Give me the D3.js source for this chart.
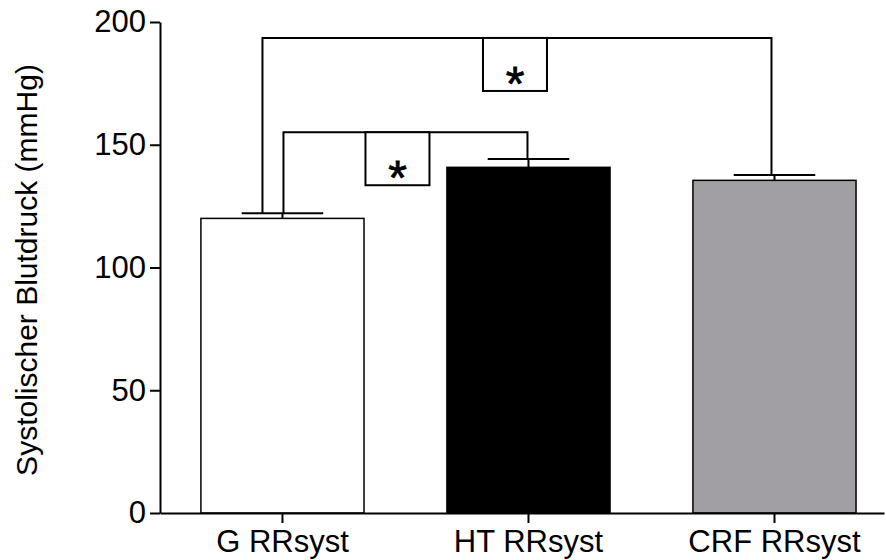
<!DOCTYPE html>
<html>
<head>
<meta charset="utf-8">
<script src="https://cdn.jsdelivr.net/npm/d3@7"></script>
<style>
  body { margin: 0; background: #fff; }
  text { font-family: "Liberation Sans", Arial, sans-serif; }
</style>
</head>
<body>
<div id="barchart"></div>
<script>
// data
const groups = ["G RRsyst", "HT RRsyst", "CRF RRsyst"]
const means = [120, 140.8, 135.5]
const sems = [2.1, 3.4, 2.2]
const yTicks = [0, 50, 100, 150, 200]

// significance brackets: from group, to group, height of the bar line
const bracketFrom = ["G RRsyst", "G RRsyst"]
const bracketTo = ["HT RRsyst", "CRF RRsyst"]
const bracketLevel = [155.1, 193.5]
const bracketLabel = ["*", "*"]

const width = 886
const height = 560
const margins = { top: 22, bottom: 47, left: 160, right: 2 }

const data = groups.map((g, i) => ({ group: g, mean: means[i], sem: sems[i] }))

const xScale = d3.scaleBand()
    .domain(groups)
    .range([margins.left, width - margins.right])
    .paddingInner(0.337)
    .paddingOuter(0.14)
    .align(0.594)

const yScale = d3.scaleLinear()
    .domain([0, 200])
    .range([height - margins.bottom, margins.top])

const fillColor = d3.scaleOrdinal()
    .domain(groups)
    .range(["#ffffff", "#000000", "#a19fa4"])

const svg = d3.select("#barchart")
    .append("svg")
    .attr("width", width)
    .attr("height", height)

// bars
svg.selectAll("rect.bar")
    .data(data)
    .join("rect")
    .attr("class", "bar")
    .attr("x", d => xScale(d.group))
    .attr("y", d => yScale(d.mean))
    .attr("width", xScale.bandwidth())
    .attr("height", d => yScale(0) - yScale(d.mean))
    .attr("fill", d => fillColor(d.group))
    .attr("stroke", "#000")
    .attr("stroke-width", 1.5)

// error bars (upper only)
const cx = g => xScale(g) + xScale.bandwidth() / 2
svg.selectAll("line.stem")
    .data(data)
    .join("line")
    .attr("class", "stem")
    .attr("x1", d => cx(d.group))
    .attr("x2", d => cx(d.group))
    .attr("y1", d => yScale(d.mean))
    .attr("y2", d => yScale(d.mean + d.sem))
    .attr("stroke", "#000")
    .attr("stroke-width", 2)

svg.selectAll("line.cap")
    .data(data)
    .join("line")
    .attr("class", "cap")
    .attr("x1", d => cx(d.group) - xScale.bandwidth() / 4)
    .attr("x2", d => cx(d.group) + xScale.bandwidth() / 4)
    .attr("y1", d => yScale(d.mean + d.sem))
    .attr("y2", d => yScale(d.mean + d.sem))
    .attr("stroke", "#000")
    .attr("stroke-width", 2)

// brackets
const capTop = g => { const d = data.find(e => e.group === g); return yScale(d.mean + d.sem) }
const brackets = bracketFrom.map((f, i) => ({ from: f, to: bracketTo[i], level: bracketLevel[i], label: bracketLabel[i] }))
// small horizontal shifts of the bracket legs, as drawn in the original
const legShift = [[1, -1], [-20, -3]]
const boxShift = [-8, -2]

brackets.forEach((b, i) => {
    const x1 = cx(b.from) + legShift[i][0]
    const x2 = cx(b.to) + legShift[i][1]
    const y = yScale(b.level)
    svg.append("path")
        .attr("d", `M${x1},${capTop(b.from)}V${y}H${x2}V${capTop(b.to)}`)
        .attr("fill", "none")
        .attr("stroke", "#000")
        .attr("stroke-width", 2)
    const bx = (x1 + x2) / 2 + boxShift[i]
    svg.append("rect")
        .attr("x", bx - 32)
        .attr("y", y)
        .attr("width", 64)
        .attr("height", 53)
        .attr("fill", "#fff")
        .attr("stroke", "#000")
        .attr("stroke-width", 2)
    svg.append("text")
        .attr("x", bx)
        .attr("y", y + 62)
        .attr("text-anchor", "middle")
        .attr("font-size", 48)
        .attr("stroke", "#000")
        .attr("stroke-width", 0.8)
        .text(b.label)
})

// axes
const yAxis = svg.append("g")
    .attr("transform", `translate(${margins.left},0)`)
    .call(d3.axisLeft(yScale).tickValues(yTicks).tickSize(10).tickSizeOuter(0).tickPadding(4))
yAxis.selectAll("path, line").attr("stroke", "#000").attr("stroke-width", 2)
yAxis.selectAll("text").attr("font-size", 31).attr("fill", "#000").attr("font-family", "Liberation Sans, Arial, sans-serif")

const xAxis = svg.append("g")
    .attr("transform", `translate(0,${yScale(0)})`)
    .call(d3.axisBottom(xScale).tickSize(10).tickSizeOuter(0).tickPadding(7))
xAxis.selectAll("path, line").attr("stroke", "#000").attr("stroke-width", 2)
xAxis.selectAll("text").attr("font-size", 31).attr("fill", "#000").attr("font-family", "Liberation Sans, Arial, sans-serif")

svg.append("text")
    .attr("transform", `translate(37,270) rotate(-90)`)
    .attr("text-anchor", "middle")
    .attr("font-size", 30)
    .text("Systolischer Blutdruck (mmHg)")
</script>
</body>
</html>
